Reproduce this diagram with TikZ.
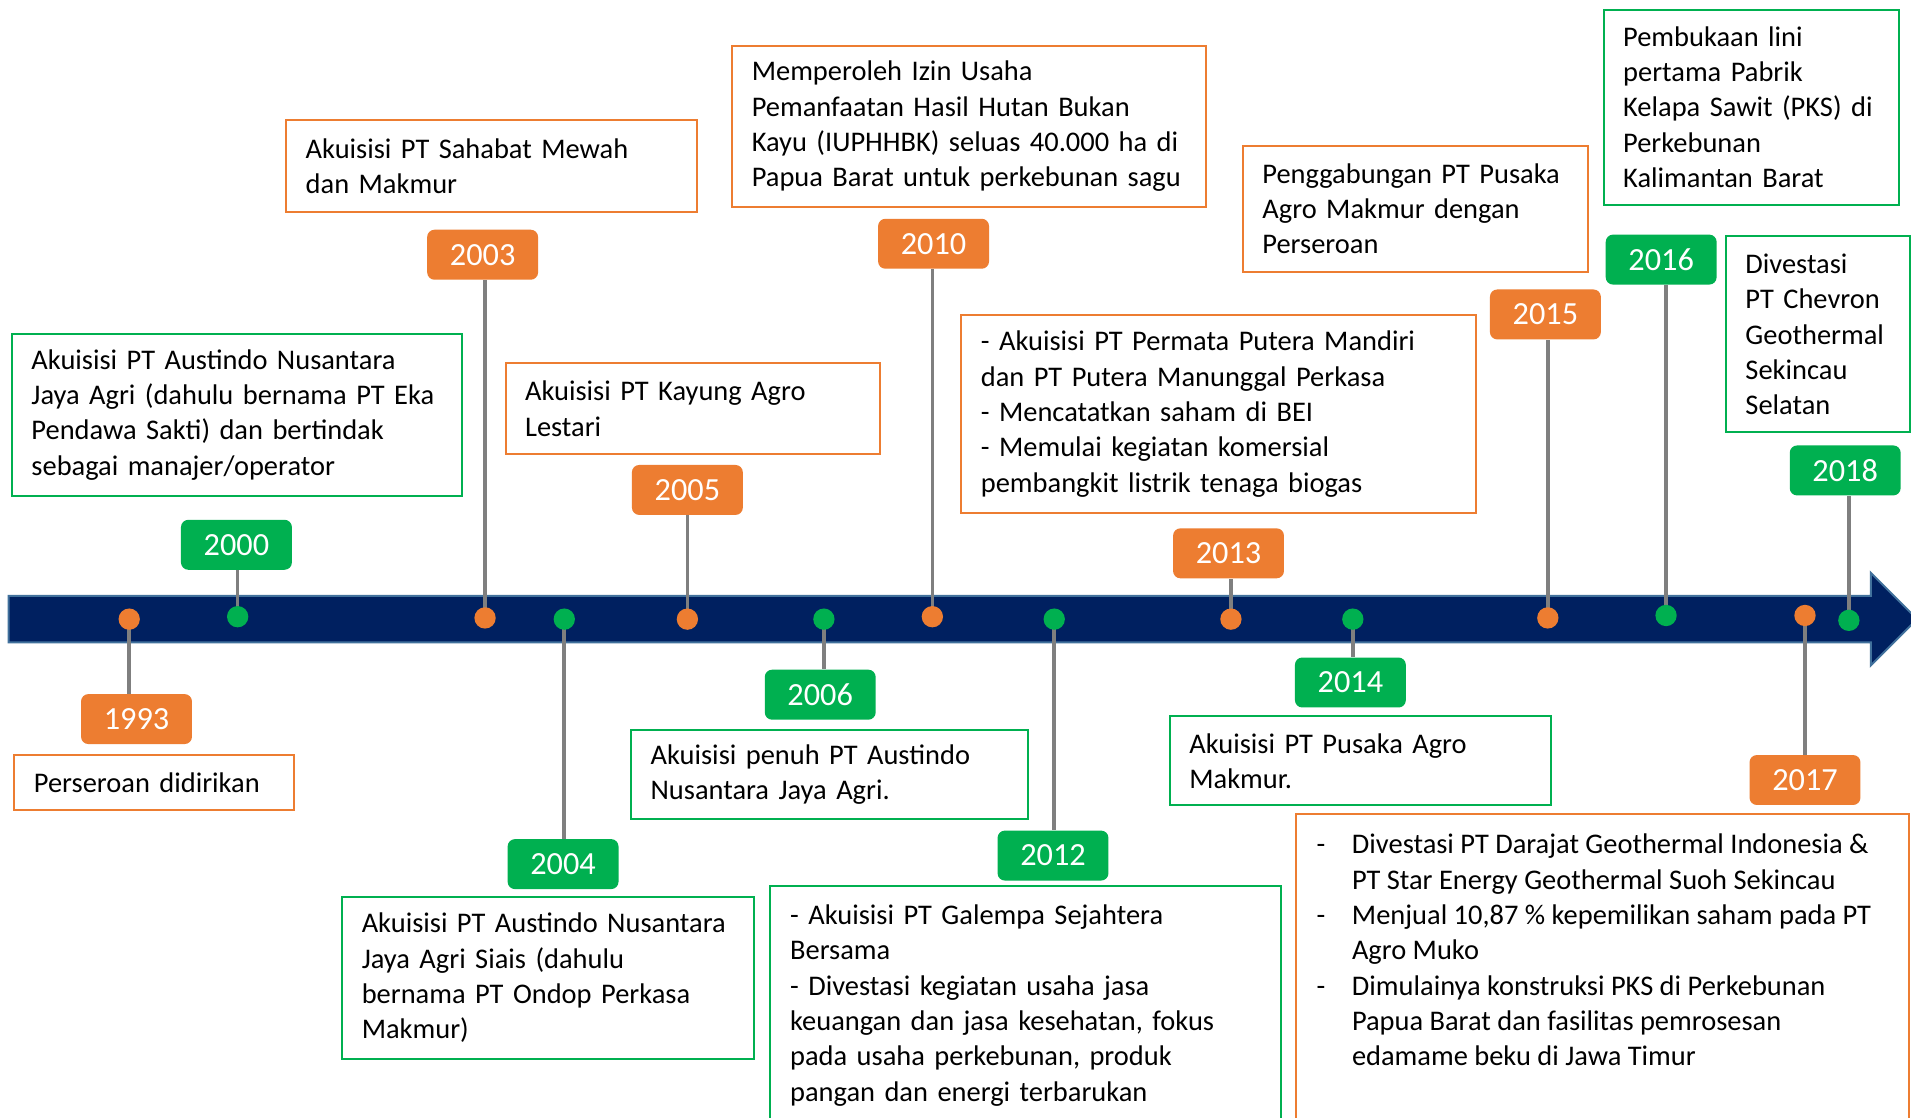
\documentclass[tikz,border=0pt]{standalone}
\usepackage{fontspec}
\setmainfont{Carlito}
\usetikzlibrary{backgrounds}
\definecolor{orangeC}{HTML}{ED7D31}
\definecolor{greenC}{HTML}{00B050}
\definecolor{navyC}{HTML}{002060}
\definecolor{barline}{HTML}{41719C}
\definecolor{stemgray}{HTML}{7F7F7F}
\tikzset{
  every node/.style={font=\fontsize{14pt}{17.4pt}\selectfont},
  tb/.style={draw=#1, line width=1pt, fill=white, anchor=north west, inner xsep=9.6pt, inner ysep=0pt, align=left, text=black},
  tt/.style={anchor=north west, inner xsep=9.6pt, inner ysep=9pt, align=left, text=black},
  bord/.style={draw=#1, line width=1pt},
  yr/.style={fill=#1, rounded corners=3.6pt, minimum width=54.6pt, minimum height=24.6pt, inner sep=0pt, text=white, font=\fontsize{15.9pt}{18pt}\selectfont},
  dot/.style={circle, fill=#1, minimum size=10.5pt, inner sep=0pt},
  stem/.style={draw=stemgray, line width=1.8pt},
}
\begin{document}
\hyphenpenalty=10000 \exhyphenpenalty=10000
\begin{tikzpicture}[x=0.6pt,y=-0.6pt]
\useasboundingbox (0,0) rectangle (1568,917);
\clip (0,0) rectangle (1568,917);
% timeline bar
\begin{scope}[on background layer]
\fill[white] (0,0) rectangle (1568,917);
\filldraw[fill=navyC, draw=barline, line width=1pt] (7,489) -- (1535,489) -- (1535,470) -- (1573,508) -- (1535,546) -- (1535,527) -- (7,527) -- cycle;
\end{scope}
% dots
\node[dot=orangeC] (d1993) at (106,508) {};
\node[dot=greenC]  (d2000) at (195,506) {};
\node[dot=orangeC] (d2003) at (398,507) {};
\node[dot=greenC]  (d2004) at (463,508) {};
\node[dot=orangeC] (d2005) at (564,508) {};
\node[dot=greenC]  (d2006) at (676,508) {};
\node[dot=orangeC] (d2010) at (765,506) {};
\node[dot=greenC]  (d2012) at (865,508) {};
\node[dot=orangeC] (d2013) at (1010,508) {};
\node[dot=greenC]  (d2014) at (1110,508) {};
\node[dot=orangeC] (d2015) at (1270,507) {};
\node[dot=greenC]  (d2016) at (1367,505) {};
\node[dot=orangeC] (d2017) at (1481,505) {};
\node[dot=greenC]  (d2018) at (1517,509) {};
% year labels
\node[yr=orangeC] (y1993) at (112,590) {1993};
\node[yr=greenC]  (y2000) at (194,447) {2000};
\node[yr=orangeC] (y2003) at (396,209) {2003};
\node[yr=greenC]  (y2004) at (462,709) {2004};
\node[yr=orangeC] (y2005) at (564,402) {2005};
\node[yr=greenC]  (y2006) at (673,570) {2006};
\node[yr=orangeC] (y2010) at (766,200) {2010};
\node[yr=greenC]  (y2012) at (864,702) {2012};
\node[yr=orangeC] (y2013) at (1008,454) {2013};
\node[yr=greenC]  (y2014) at (1108,560) {2014};
\node[yr=orangeC] (y2015) at (1268,258) {2015};
\node[yr=greenC]  (y2016) at (1363,213) {2016};
\node[yr=orangeC] (y2017) at (1481,640) {2017};
\node[yr=greenC]  (y2018) at (1514,386) {2018};
% stems
\begin{scope}[on background layer]
\draw[stem] (d1993.center) -- (d1993 |- y1993.north);
\draw[stem] (d2000.center) -- (d2000 |- y2000.south);
\draw[stem] (d2003.center) -- (d2003 |- y2003.south);
\draw[stem] (d2004.center) -- (d2004 |- y2004.north);
\draw[stem] (d2005.center) -- (d2005 |- y2005.south);
\draw[stem] (d2006.center) -- (d2006 |- y2006.north);
\draw[stem] (d2010.center) -- (d2010 |- y2010.south);
\draw[stem] (d2012.center) -- (d2012 |- y2012.north);
\draw[stem] (d2013.center) -- (d2013 |- y2013.south);
\draw[stem] (d2014.center) -- (d2014 |- y2014.north);
\draw[stem] (d2015.center) -- (d2015 |- y2015.south);
\draw[stem] (d2016.center) -- (d2016 |- y2016.south);
\draw[stem] (d2017.center) -- (d2017 |- y2017.north);
\draw[stem] (d2018.center) -- (d2018 |- y2018.south);
\end{scope}
% text boxes
\node[tb=orangeC, minimum width=137.4pt, minimum height=27pt, text width=118.2pt] (t1993) at (11,619) {Perseroan didirikan};
\node[tb=greenC, minimum width=221.4pt, minimum height=79.8pt, text width=202.2pt] (t2000) at (9,273) {Akuisisi PT Austindo Nusantara\\ Jaya Agri (dahulu bernama PT Eka\\ Pendawa Sakti) dan bertindak\\ sebagai manajer/operator};
\node[tb=orangeC, minimum width=202.2pt, minimum height=45pt, text width=183pt] (t2003) at (234,98) {Akuisisi PT Sahabat Mewah\\ dan Makmur};
\node[tb=greenC, minimum width=202.8pt, minimum height=79.8pt, text width=183.6pt] (t2004) at (280,735) {Akuisisi PT Austindo Nusantara\\ Jaya Agri Siais (dahulu\\ bernama PT Ondop Perkasa\\ Makmur)};
\node[tb=orangeC, minimum width=184.2pt, minimum height=45pt, text width=165pt] (t2005) at (414,297) {Akuisisi PT Kayung Agro\\ Lestari};
\node[tb=greenC, minimum width=195.6pt, minimum height=43.8pt, text width=176.4pt] (t2006) at (517,598) {Akuisisi penuh PT Austindo\\ Nusantara Jaya Agri.};
\node[tb=orangeC, minimum width=233.4pt, minimum height=79.2pt, text width=214.2pt] (t2010) at (600,37) {Memperoleh Izin Usaha\\ Pemanfaatan Hasil Hutan Bukan\\ Kayu (IUPHHBK) seluas 40.000 ha di\\ Papua Barat untuk perkebunan sagu};
\node[tt, text width=232.2pt] (t2012) at (632,727) {- Akuisisi PT Galempa Sejahtera\\ Bersama\\ - Divestasi kegiatan usaha jasa\\ keuangan dan jasa kesehatan, fokus\\ pada usaha perkebunan, produk\\ pangan dan energi terbarukan};
\draw[bord=greenC] (t2012.north west) rectangle ++(419,220);
\node[tb=orangeC, minimum width=253.2pt, minimum height=97.2pt, text width=234pt] (t2013) at (788,258) {- Akuisisi PT Permata Putera Mandiri\\ dan PT Putera Manunggal Perkasa\\ - Mencatatkan saham di BEI\\ - Memulai kegiatan komersial\\ pembangkit listrik tenaga biogas};
\node[tb=greenC, minimum width=187.8pt, minimum height=43.8pt, text width=168.6pt] (t2014) at (959,587) {Akuisisi PT Pusaka Agro\\ Makmur.};
\node[tb=orangeC, minimum width=169.8pt, minimum height=61.8pt, text width=150.6pt] (t2015) at (1019,119) {Penggabungan PT Pusaka\\ Agro Makmur dengan\\ Perseroan};
\node[tb=greenC, minimum width=145.2pt, minimum height=96pt, text width=126pt] (t2016) at (1315,7) {Pembukaan lini\\ pertama Pabrik\\ Kelapa Sawit (PKS) di\\ Perkebunan\\ Kalimantan Barat};
\node[tt, inner xsep=10.2pt, inner ysep=7.2pt] (t2017) at (1063,668) {\begin{tabular}{@{}p{17.4pt}@{}l@{}}
-& Divestasi PT Darajat Geothermal Indonesia \&\\
 & PT Star Energy Geothermal Suoh Sekincau\\
-& Menjual 10,87 \% kepemilikan saham pada PT\\
 & Agro Muko\\
-& Dimulainya konstruksi PKS di Perkebunan\\
 & Papua Barat dan fasilitas pemrosesan\\
 & edamame beku di Jawa Timur
\end{tabular}};
\draw[bord=orangeC] (t2017.north west) rectangle ++(503,260);
\node[tb=greenC, minimum width=90.6pt, minimum height=96.6pt, text width=71pt, inner xsep=9.8pt] (t2018) at (1415,193) {Divestasi\\ PT Chevron\\ Geothermal\\ Sekincau\\ Selatan};
\end{tikzpicture}
\end{document}
